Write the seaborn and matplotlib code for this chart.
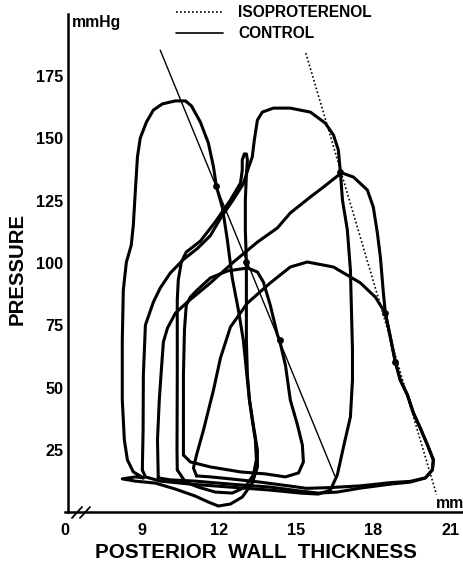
import numpy as np
import matplotlib
matplotlib.use("Agg")
import matplotlib.pyplot as plt
from matplotlib.lines import Line2D
import seaborn as sns

# ---------------- data (mm, mmHg) ----------------
loopA_x = [9.05, 8.66, 8.43, 8.31, 8.23, 8.23, 8.27, 8.39, 8.58, 8.66, 8.74, 8.82, 8.93, 9.17, 9.44,
           9.79, 10.30, 10.69, 10.92, 11.27, 11.58, 11.78, 11.89, 12.13, 12.32, 12.51, 12.75, 12.94,
           13.06, 13.18, 13.33, 13.49, 13.49, 13.29, 12.90, 12.44, 11.97, 11.58, 11.07, 10.30, 9.52,
           8.74, 8.23, 8.74, 9.05]
loopA_p = [13.7, 16.1, 20.9, 28.9, 45.0, 69.1, 89.2, 100.4, 107.2, 115.3, 129.3, 142.6, 150.2, 156.6,
           161.4, 163.9, 165.1, 165.1, 163.1, 156.6, 148.2, 138.6, 130.9, 122.1, 109.2, 94.0, 81.1,
           69.1, 57.0, 45.0, 34.9, 24.9, 18.1, 11.6, 6.0, 3.2, 2.4, 4.0, 6.4, 9.2, 11.6, 12.4, 13.3,
           14.1, 13.7]

loopB_x = [9.01, 9.04, 9.05, 9.13, 9.44, 9.71, 10.10, 10.61, 11.15, 11.66, 12.09, 12.51, 12.94, 13.14,
           13.29, 13.37, 13.49, 13.68, 14.11, 14.77, 15.55, 16.13, 16.45, 16.64, 16.72, 16.80, 16.99,
           17.11, 17.15, 17.19, 17.19, 17.11, 16.84, 16.60, 16.33, 15.86, 15.16, 13.99, 12.44, 10.88,
           9.71, 9.13, 9.01]
loopB_p = [16.9, 32.9, 55.0, 75.1, 84.3, 90.0, 96.0, 101.4, 105.8, 111.0, 118.6, 124.8, 131.8, 138.2,
           142.6, 149.4, 157.4, 160.6, 162.2, 162.2, 160.6, 156.2, 151.4, 145.4, 136.5, 125.3, 113.3,
           97.2, 81.1, 65.1, 53.0, 38.2, 26.1, 14.9, 8.8, 7.2, 7.6, 8.8, 10.0, 11.2, 12.4, 14.1, 16.9]

loopC2_x = [10.37, 10.36, 10.37, 10.37, 10.41, 10.53, 10.72, 11.27, 11.85, 12.44, 12.83, 12.90, 12.90,
            12.98, 13.06, 13.10, 13.06, 13.02, 13.02, 13.06, 13.06, 13.06, 13.10, 13.18, 13.29, 13.41,
            13.45, 13.33, 13.02, 12.51, 11.85, 11.19, 10.69, 10.37]
loopC2_p = [16.9, 24.9, 55.0, 85.1, 93.2, 100.4, 104.4, 108.8, 116.5, 125.3, 132.1, 137.3, 141.4,
            143.8, 143.8, 141.4, 135.3, 125.3, 113.3, 100.4, 85.1, 69.1, 55.0, 45.0, 36.9, 28.9,
            20.9, 14.9, 10.0, 7.6, 8.0, 10.0, 12.0, 16.9]

loopC3_x = [10.61, 10.61, 10.61, 10.65, 10.72, 10.88, 11.15, 11.66, 12.32, 13.10, 13.49, 13.72, 13.99,
            14.27, 14.35, 14.58, 14.77, 15.05, 15.24, 15.28, 15.09, 14.58, 13.80, 12.83, 11.66, 10.88,
            10.61]
loopC3_p = [22.9, 36.9, 55.0, 73.1, 83.1, 86.3, 89.2, 94.0, 96.8, 98.0, 96.4, 92.4, 83.1, 71.1, 69.0,
            59.0, 45.0, 34.9, 26.9, 20.1, 15.7, 14.1, 15.3, 16.1, 18.1, 20.1, 22.9]

loopI2_x = [9.63, 9.60, 9.67, 9.75, 9.83, 9.99, 10.30, 10.76, 11.66, 12.56, 13.49, 14.27, 14.77, 15.55,
            16.06, 16.60, 16.80, 17.23, 17.77, 18.00, 18.16, 18.28, 18.39, 18.47, 18.67, 18.86, 19.05,
            19.33, 19.56, 19.83, 20.11, 20.34, 20.30, 20.03, 19.44, 18.67, 17.50, 16.60, 15.86, 15.16,
            13.99, 12.44, 11.07, 10.10, 9.63]
loopI2_p = [13.7, 28.9, 45.0, 57.0, 68.3, 73.9, 79.9, 84.3, 92.0, 100.4, 108.4, 114.1, 120.1, 126.5,
            130.5, 134.9, 136.1, 134.5, 129.3, 122.5, 112.0, 102.0, 88.4, 79.9, 69.9, 60.2, 53.0, 47.0,
            39.8, 33.7, 26.9, 20.9, 16.9, 13.7, 12.0, 11.2, 9.6, 8.0, 7.6, 8.4, 10.0, 11.2, 12.4, 12.9,
            13.7]

loopI3_x = [11.12, 11.00, 11.12, 11.39, 11.78, 12.05, 12.44, 13.10, 13.99, 14.77, 15.43, 16.45, 17.50,
            18.08, 18.47, 18.67, 18.86, 19.05, 19.33, 19.56, 19.83, 20.11, 20.34, 20.30, 20.03, 19.44,
            18.67, 17.50, 16.30, 15.40, 14.77, 13.60, 12.44, 11.66, 11.12]
loopI3_p = [14.5, 17.7, 22.9, 32.9, 49.0, 61.8, 74.3, 83.9, 92.0, 98.4, 100.4, 98.4, 92.0, 86.3, 79.9,
            69.9, 60.2, 53.0, 47.0, 39.8, 33.7, 26.9, 20.9, 16.9, 13.7, 12.3, 11.8, 10.5, 9.8, 9.5, 10.4,
            12.0, 13.3, 14.1, 14.5]

# end-systolic points
es_ctrl_x = [11.89, 13.06, 14.35]
es_ctrl_p = [130.9, 100.4, 69.0]
es_iso_x = [16.72, 18.47, 18.86]
es_iso_p = [136.5, 79.9, 60.2]
# pressure span of the fitted end-systolic lines
ctrl_line_p = [185.5, 14.5]
iso_line_p = [184.3, 7.0]

x_ticks = [6, 9, 12, 15, 18, 21]
x_ticklabels = ["0", "9", "12", "15", "18", "21"]
y_ticks = [25, 50, 75, 100, 125, 150, 175]

# ---------------- style ----------------
sns.set_theme(style="white")
plt.rcParams['font.family'] = ['Liberation Sans', 'DejaVu Sans']
plt.rcParams['font.weight'] = 'bold'
plt.rcParams['axes.labelweight'] = 'bold'
for k in ('text.color', 'axes.labelcolor', 'xtick.color', 'ytick.color', 'axes.edgecolor'):
    plt.rcParams[k] = 'black'

W, H = 464, 566
fig = plt.figure(figsize=(W / 100, H / 100), dpi=100)
ax = fig.add_axes([65 / W, 54 / H, 399 / W, 498 / H])
ax.set_facecolor('white')

loops = [(loopA_x, loopA_p), (loopB_x, loopB_p), (loopC2_x, loopC2_p),
         (loopC3_x, loopC3_p), (loopI2_x, loopI2_p), (loopI3_x, loopI3_p)]
for lx, lp in loops:
    sns.lineplot(x=lx, y=lp, sort=False, estimator=None, color='black', lw=2.2,
                 solid_joinstyle='round', solid_capstyle='round', ax=ax, legend=False)

# end-systolic pressure-thickness lines (fit through the marked points)
c_fit = np.polyfit(es_ctrl_p, es_ctrl_x, 1)
i_fit = np.polyfit(es_iso_p, es_iso_x, 1)
sns.lineplot(x=np.polyval(c_fit, ctrl_line_p), y=ctrl_line_p, sort=False, estimator=None,
             color='black', lw=1.0, ax=ax, legend=False)
sns.lineplot(x=np.polyval(i_fit, iso_line_p), y=iso_line_p, sort=False, estimator=None,
             color='black', lw=1.2, ax=ax, legend=False)
ax.lines[-1].set_linestyle((0, (1, 1.4)))

sns.scatterplot(x=es_ctrl_x + es_iso_x, y=es_ctrl_p + es_iso_p, color='black', s=24,
                edgecolor='black', linewidth=0, ax=ax, zorder=5, legend=False)

# axes
ax.set_xlim(6.0, 6.0 + 399 / 25.69)
ax.set_ylim(0, 200)
ax.spines['top'].set_visible(False)
ax.spines['right'].set_visible(False)
ax.spines['left'].set_position(('data', 6.12))
for s in ('left', 'bottom'):
    ax.spines[s].set_linewidth(1.8)
    ax.spines[s].set_color('black')
ax.set_xticks(x_ticks)
ax.set_xticklabels(x_ticklabels)
ax.set_yticks(y_ticks)
ax.tick_params(axis='both', direction='in', length=4, width=1.5, colors='black',
               labelsize=11.7)
ax.tick_params(axis='x', pad=8)
ax.tick_params(axis='y', pad=3.6)
ax.xaxis.get_major_ticks()[0].tick1line.set_visible(False)
for t in ax.get_xticklabels() + ax.get_yticklabels():
    t.set_fontweight('bold')

ax.set_xlabel('POSTERIOR  WALL  THICKNESS', fontsize=14.9, fontweight='bold', color='black')
ax.xaxis.set_label_coords((256 - 65) / 399, (566 - 543 - 54) / 498)
ax.set_ylabel('PRESSURE', fontsize=14.7, fontweight='bold', color='black')
ax.yaxis.set_label_coords((27 - 65) / 399, (566 - 269 - 54) / 498)

fig.text(72 / W, 1 - 22 / H, 'mmHg', ha='left', va='center', fontsize=11.3, fontweight='bold')
fig.text(436 / W, 1 - 511 / H, 'mm', ha='left', va='bottom', fontsize=11.3, fontweight='bold')

# axis break marks
for dx in (0.0, 8.0):
    ax.plot([(72 + dx - 65) / 399, (82 + dx - 65) / 399], [-6 / 498, 5 / 498],
            transform=ax.transAxes, color='black', lw=1.3, clip_on=False)

handles = [Line2D([], [], color='black', lw=1.2, linestyle=(0, (1, 1.4))),
           Line2D([], [], color='black', lw=1.2)]
fig.legend(handles, ['ISOPROTERENOL', 'CONTROL'], loc='upper left',
           bbox_to_anchor=(176 / W, 1 - 5 / H), frameon=False,
           handlelength=3.0, handletextpad=1.0, labelspacing=0.4, borderpad=0,
           borderaxespad=0, prop={'weight': 'bold', 'size': 11.2})

fig.savefig('out.png', dpi=100)
